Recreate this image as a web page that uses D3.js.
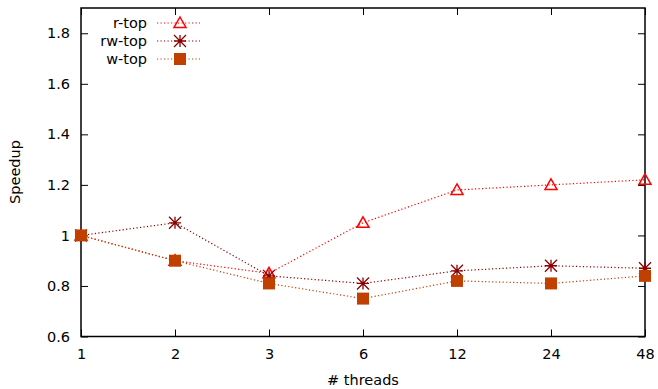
<!DOCTYPE html>
<html><head><meta charset="utf-8">
<script src="https://cdn.jsdelivr.net/npm/d3@7"></script>
<style>body{margin:0;background:#fff}text{font-family:"DejaVu Sans",sans-serif;font-size:14.5px;fill:#000}</style>
</head><body><svg id="c" width="658" height="389"></svg>
<script>
const threads = ["1","2","3","6","12","24","48"];
const rTop  = [1.0, 0.90, 0.85, 1.05, 1.18, 1.20, 1.22];
const rwTop = [1.0, 1.05, 0.84, 0.81, 0.86, 0.88, 0.87];
const wTop  = [1.0, 0.90, 0.81, 0.75, 0.82, 0.81, 0.84];
const yTicks = [0.6, 0.8, 1.0, 1.2, 1.4, 1.6, 1.8];

const svg = d3.select("#c");
const L = 81, R = 645, T = 8, B = 336.5;
const x = d3.scalePoint().domain(threads).range([L, R]);
const y = d3.scaleLinear().domain([0.6, 1.9]).range([B, T]);

const series = [
  {name:"r-top", vals:rTop, color:"#ff0000", marker:"tri"},
  {name:"rw-top", vals:rwTop, color:"#8b0000", marker:"star"},
  {name:"w-top", vals:wTop, color:"#c04000", marker:"sq"}
];

const fmt = d => d === 1 ? "1" : d3.format(".1f")(d);
svg.append("g").attr("transform",`translate(${L},0)`)
  .call(d3.axisLeft(y).tickValues(yTicks).tickFormat(fmt).tickSizeInner(-7).tickSizeOuter(0).tickPadding(11))
  .call(g=>{g.select(".domain").remove();g.selectAll("text").style("font-size","14.5px").style("font-family","DejaVu Sans");});
svg.append("g").attr("transform",`translate(${R},0)`)
  .call(d3.axisRight(y).tickValues(yTicks).tickFormat("").tickSizeInner(-7).tickSizeOuter(0))
  .call(g=>g.select(".domain").remove());
svg.append("g").attr("transform",`translate(0,${B})`)
  .call(d3.axisBottom(x).tickSizeInner(-7).tickSizeOuter(0).tickPadding(12))
  .call(g=>{g.select(".domain").remove();g.selectAll("text").style("font-size","14.5px").style("font-family","DejaVu Sans");});
svg.append("g").attr("transform",`translate(0,${T})`)
  .call(d3.axisTop(x).tickFormat("").tickSizeInner(-7).tickSizeOuter(0))
  .call(g=>g.select(".domain").remove());
svg.selectAll(".tick line").attr("stroke","#000").attr("stroke-width",1);
svg.append("rect").attr("x",L).attr("y",T).attr("width",R-L).attr("height",B-T)
  .attr("fill","none").attr("stroke","#000").attr("stroke-width",1.5);

svg.append("text").attr("x",363).attr("y",385).attr("text-anchor","middle").text("# threads");
svg.append("text").attr("transform","translate(19.5,172) rotate(-90)").attr("text-anchor","middle").text("Speedup");

function marker(g, type, color, cx, cy){
  if(type==="tri"){
    g.append("path").attr("d",`M${cx},${cy-6}L${cx+6},${cy+4.5}L${cx-6},${cy+4.5}Z`)
      .attr("fill","none").attr("stroke",color).attr("stroke-width",1.5);
  } else if(type==="star"){
    const s=6;
    g.append("path").attr("d",`M${cx-s},${cy}H${cx+s}M${cx},${cy-s}V${cy+s}M${cx-s},${cy-s}L${cx+s},${cy+s}M${cx-s},${cy+s}L${cx+s},${cy-s}`)
      .attr("stroke",color).attr("stroke-width",1.3);
  } else {
    g.append("rect").attr("x",cx-6).attr("y",cy-6).attr("width",12).attr("height",12).attr("fill",color);
  }
}

const line = d3.line().x((d,i)=>x(threads[i])).y(d=>y(d));
series.forEach(s=>{
  svg.append("path").attr("d",line(s.vals)).attr("fill","none").attr("stroke",s.color)
    .attr("stroke-width",1.2).attr("stroke-dasharray","1.2,2.3");
});
series.forEach(s=>{
  const g = svg.append("g");
  s.vals.forEach((v,i)=>marker(g,s.marker,s.color,x(threads[i]),y(v)));
});

series.forEach((s,i)=>{
  const ly = 23 + i*18;
  svg.append("text").attr("x",147).attr("y",ly+5).attr("text-anchor","end").text(s.name);
  svg.append("line").attr("x1",157).attr("x2",200).attr("y1",ly).attr("y2",ly)
    .attr("stroke",s.color).attr("stroke-width",1.2).attr("stroke-dasharray","1.2,2.3");
  marker(svg,s.marker,s.color,180,ly);
});
</script></body></html>
